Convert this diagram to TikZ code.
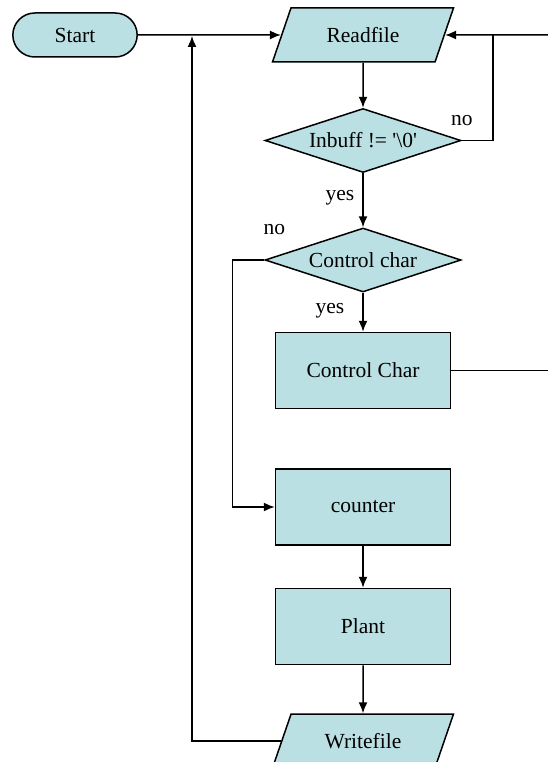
\documentclass[tikz,border=0pt]{standalone}
\usepackage{fontspec}
\setmainfont{Liberation Serif}
\newfontfamily\flowfont{Liberation Serif}
\usetikzlibrary{arrows.meta,shapes,positioning}
\definecolor{boxfill}{RGB}{187,224,227}

\begin{document}
\begin{tikzpicture}[
        x=1pt, y=-1pt,
        font=\flowfont\fontsize{21.5}{26}\selectfont,
        every path/.style={line width=1.5pt},
        >={Latex[length=11pt,width=9pt]},
        block/.style={draw, fill=boxfill, align=center, minimum width=175pt, minimum height=76pt},
        terminal/.style={draw, fill=boxfill, rounded rectangle, minimum width=131pt, minimum height=44pt},
        io/.style={draw, fill=boxfill, trapezium, trapezium left angle=50, trapezium right angle=130,
            trapezium stretches body, minimum width=181pt, minimum height=54pt},
        decision/.style={draw, fill=boxfill, diamond, aspect=3, inner sep=0pt, minimum width=196pt, minimum height=64pt},
        lbl/.style={inner sep=1pt}
    ]
    \useasboundingbox (0,0) rectangle (548,762);

    % Nodes
    \node (start)[terminal] at (75,35) {Start};
    \node (read)[io] at (363,35) {Readfile};
    \node (inbuff)[below=45pt of read, decision] {Inbuff != \textquotesingle\textbackslash 0\textquotesingle};
    \node (ctrl)[below=54pt of inbuff, decision] {Control char};
    \node (ctrlbox)[below=39pt of ctrl, block] {Control Char};
    \node (counter)[below=59pt of ctrlbox, block] {counter};
    \node (plant)[below=42pt of counter, block] {Plant};
    \node (write)[below=48pt of plant, io] {Writefile};

    % branch labels
    \node (noA)[lbl, above=13pt of inbuff.east] {no};
    \node (yesA)[lbl] at ([xshift=-23pt,yshift=-24pt]inbuff.south) {yes};
    \node (noB)[lbl] at ([xshift=10pt,yshift=30pt]ctrl.west) {no};
    \node (yesB)[lbl] at ([xshift=-33pt,yshift=-18pt]ctrl.south) {yes};

    % loose ends
    \coordinate (feed) at (548,35);
    \coordinate (loop) at (493,35);
    \coordinate (back) at (192,36);
    \coordinate (exit) at (548,0);

    % Edges
    \draw[->] (start) -- (read);
    \draw[->] (feed) -- (read);
    \draw[->] (read) -- (inbuff);
    \draw (inbuff.east) -| (loop);
    \draw[->] (inbuff) -- (ctrl);
    \draw[->] (ctrl) -- (ctrlbox);
    \draw[->] (ctrl.west) -- ++(-32,0) |- (counter);
    \draw (ctrlbox) -- (ctrlbox -| exit);
    \draw[->] (counter) -- (plant);
    \draw[->] (plant) -- (write);
    \draw[->] (write) -| (back);

\end{tikzpicture}
\end{document}
